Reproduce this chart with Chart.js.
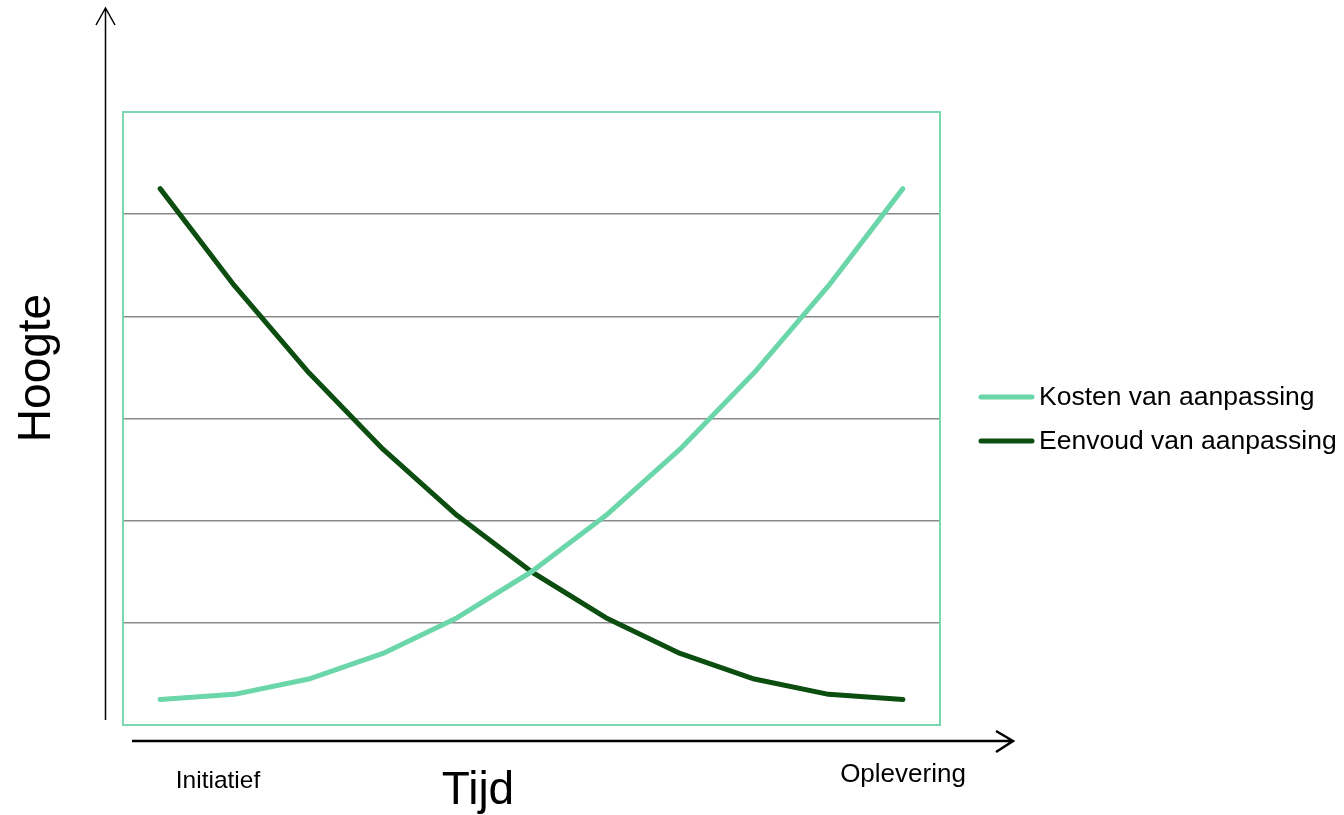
<!DOCTYPE html>
<html>
<head>
<meta charset="utf-8">
<style>
  html, body { margin: 0; padding: 0; background: #fff; }
  #wrap { width: 1344px; height: 815px; }
</style>
<script src="https://cdn.jsdelivr.net/npm/chart.js@4/dist/chart.umd.min.js"></script>
</head>
<body>
<div id="wrap"><canvas id="chart" width="1344" height="815"></canvas></div>
<script>
// fases in de tijd (11 stappen, alleen begin en eind hebben een naam)
const phases = ['Initiatief', '', '', '', '', '', '', '', '', '', 'Oplevering'];
const kosten = [0.25, 0.3, 0.45, 0.7, 1.05, 1.5, 2.05, 2.7, 3.45, 4.3, 5.25];
const eenvoud = [5.25, 4.3, 3.45, 2.7, 2.05, 1.5, 1.05, 0.7, 0.45, 0.3, 0.25];
const seriesNames = ['Kosten van aanpassing', 'Eenvoud van aanpassing'];
const yTicks = [0, 1, 2, 3, 4, 5, 6];

const lightGreen = '#6bd6aa';
const darkGreen = '#0c4d10';
const font = '"Liberation Sans", Arial, sans-serif';

const decorations = {
  id: 'decorations',
  beforeDatasetsDraw(chart) {
    const { ctx, chartArea } = chart;
    ctx.save();
    ctx.strokeStyle = '#7ad8b1';
    ctx.lineWidth = 2;
    ctx.strokeRect(chartArea.left, chartArea.top, chartArea.right - chartArea.left, chartArea.bottom - chartArea.top);
    ctx.restore();
  },
  afterDraw(chart) {
    const { ctx } = chart;
    ctx.save();
    ctx.strokeStyle = '#000';
    ctx.lineCap = 'butt';

    // y-as pijl
    ctx.lineWidth = 1.5;
    ctx.beginPath();
    ctx.moveTo(105.5, 720);
    ctx.lineTo(105.5, 8);
    ctx.moveTo(96, 25);
    ctx.lineTo(105.5, 8);
    ctx.lineTo(115, 25);
    ctx.stroke();

    // x-as pijl
    ctx.lineWidth = 2.5;
    ctx.beginPath();
    ctx.moveTo(132, 741);
    ctx.lineTo(1013, 741);
    ctx.moveTo(996, 731);
    ctx.lineTo(1013, 741);
    ctx.lineTo(996, 752);
    ctx.stroke();

    ctx.fillStyle = '#000';
    ctx.textAlign = 'center';
    ctx.textBaseline = 'alphabetic';
    ctx.font = '24.5px ' + font;
    ctx.fillText(phases[0], 218, 788);
    ctx.font = '26px ' + font;
    ctx.fillText(phases[phases.length - 1], 903, 782);

    ctx.font = '46px ' + font;
    ctx.fillText('Tijd', 478, 804);
    ctx.save();
    ctx.translate(50, 368);
    ctx.rotate(-Math.PI / 2);
    ctx.fillText('Hoogte', 0, 0);
    ctx.restore();

    // legenda
    ctx.textAlign = 'left';
    ctx.font = '26.5px ' + font;
    chart.data.datasets.forEach((ds, i) => {
      const y = 397 + i * 44;
      ctx.strokeStyle = ds.borderColor;
      ctx.lineWidth = 5;
      ctx.lineCap = 'round';
      ctx.beginPath();
      ctx.moveTo(981, y);
      ctx.lineTo(1032, y);
      ctx.stroke();
      ctx.fillText(ds.label, 1039, y + 8);
    });
    ctx.restore();
  }
};

new Chart(document.getElementById('chart').getContext('2d'), {
  type: 'line',
  data: {
    labels: phases,
    datasets: [
      {
        label: seriesNames[0],
        data: kosten,
        borderColor: lightGreen,
        backgroundColor: lightGreen,
        borderWidth: 5,
        borderCapStyle: 'round',
        borderJoinStyle: 'round',
        pointRadius: 0,
        tension: 0
      },
      {
        label: seriesNames[1],
        data: eenvoud,
        borderColor: darkGreen,
        backgroundColor: darkGreen,
        borderWidth: 5,
        borderCapStyle: 'round',
        borderJoinStyle: 'round',
        pointRadius: 0,
        tension: 0
      }
    ]
  },
  options: {
    responsive: false,
    animation: false,
    layout: { padding: { left: 123, top: 112, right: 404, bottom: 90 } },
    plugins: {
      legend: { display: false },
      tooltip: { enabled: false }
    },
    scales: {
      x: {
        type: 'category',
        offset: true,
        grid: { display: false, drawTicks: false },
        border: { display: false },
        ticks: { display: false }
      },
      y: {
        min: yTicks[0],
        max: yTicks[yTicks.length - 1],
        ticks: { display: false, stepSize: 1 },
        grid: {
          drawTicks: false,
          lineWidth: 1.5,
          color: (c) => (c.tick && (c.tick.value === yTicks[0] || c.tick.value === yTicks[yTicks.length - 1])) ? 'rgba(0,0,0,0)' : '#8a8a8a'
        },
        border: { display: false }
      }
    }
  },
  plugins: [decorations]
});
</script>
</body>
</html>
